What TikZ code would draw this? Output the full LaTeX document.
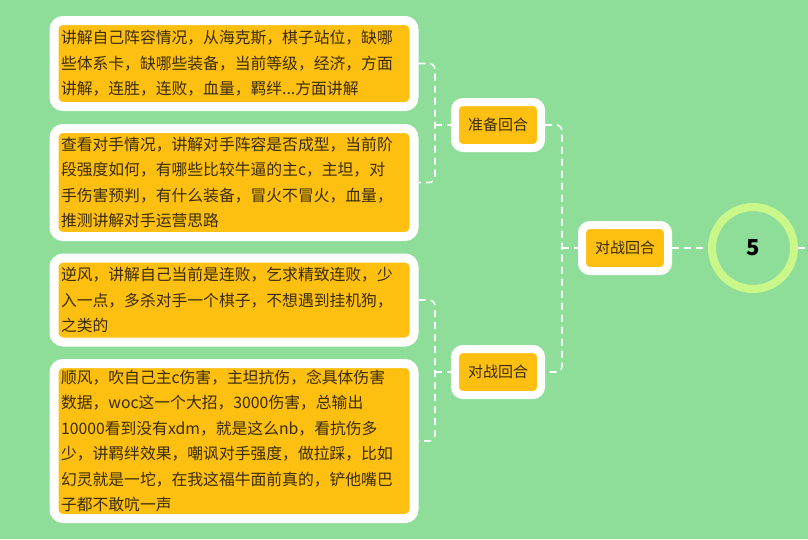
\documentclass[tikz,border=0pt]{standalone}
\usepackage{fontspec}
\setmainfont{Noto Sans CJK SC}
\begin{document}
\begin{tikzpicture}[x=1pt,y=-1pt,
  leaf/.style={draw=white,line width=9pt,fill=org,rounded corners=9pt,inner sep=6pt,text=txt,align=left,font=\fontsize{15.8}{25.5}\selectfont,minimum width=360pt,text width=346pt},
  mid/.style={draw=white,line width=8pt,fill=org,rounded corners=8pt,text=txt,font=\fontsize{15}{18}\selectfont,minimum width=86pt,minimum height=46pt},
  conn/.style={draw=white,line width=1.6pt,dash pattern=on 7pt off 5pt,rounded corners=6pt}]
\definecolor{bg}{HTML}{8EDE9A}
\definecolor{org}{HTML}{FDBF10}
\definecolor{txt}{HTML}{3A2C05}
\definecolor{ring}{HTML}{C9F78A}
\fill[bg] (0,0) rectangle (808,539);
\useasboundingbox (0,0) rectangle (808,539);
\node[leaf,minimum height=86pt] (a) at (234,63.5) {讲解自己阵容情况，从海克斯，棋子站位，缺哪\\些体系卡，缺哪些装备，当前等级，经济，方面\\讲解，连胜，连败，血量，羁绊...方面讲解};
\node[leaf,minimum height=108pt] (b) at (234,182.5) {查看对手情况，讲解对手阵容是否成型，当前阶\\段强度如何，有哪些比较牛逼的主c，主坦，对\\手伤害预判，有什么装备，冒火不冒火，血量，\\推测讲解对手运营思路};
\node[leaf,minimum height=84pt] (c) at (234,300) {逆风，讲解自己当前是连败，乞求精致连败，少\\入一点，多杀对手一个棋子，不想遇到挂机狗，\\之类的};
\node[leaf,minimum height=155pt] (d) at (234,441) {顺风，吹自己主c伤害，主坦抗伤，念具体伤害\\数据，woc这一个大招，3000伤害，总输出\\10000看到没有xdm，就是这么nb，看抗伤多\\少，讲羁绊效果，嘲讽对手强度，做拉踩，比如\\幻灵就是一坨，在我这福牛面前真的，铲他嘴巴\\子都不敢吭一声};
\node[mid] (p) at (498,125) {准备回合};
\node[mid] (q) at (498,372) {对战回合};
\node[mid] (r) at (625,248) {对战回合};
\node[circle,draw=ring,line width=8pt,fill=bg,minimum size=82pt,font=\fontsize{22}{24}\selectfont\bfseries,text=black] (s) at (753,248) {5};
\coordinate (e) at (808,248);
\draw[conn] (a.east) -| (435,125) |- (b.east);
\draw[conn] (435,125) -- (p.west);
\draw[conn] (c.east) -| (435,372) |- (d.east);
\draw[conn] (435,372) -- (q.west);
\draw[conn] (p.east) -| (562,248) |- (q.east);
\draw[conn] (562,248) -- (r.west);
\draw[conn] (r.east) -- (s.west);
\draw[conn] (s.east) -- (e);
\end{tikzpicture}
\end{document}
